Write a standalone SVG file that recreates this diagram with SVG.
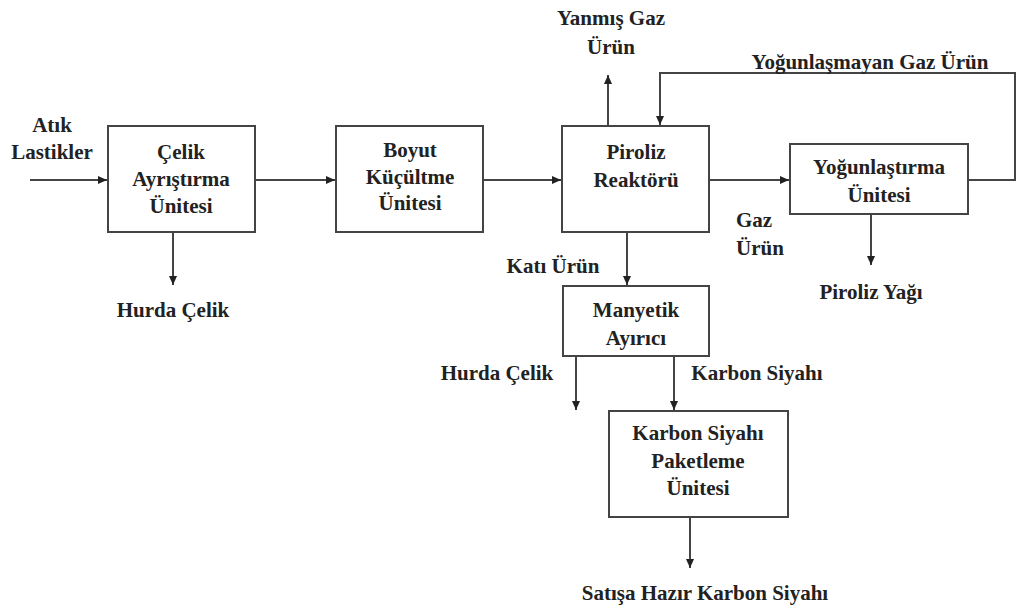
<svg xmlns="http://www.w3.org/2000/svg" width="1017" height="608" viewBox="0 0 1017 608">
<style>
.box{fill:#fff;stroke:#444;stroke-width:2}
.ln{fill:none;stroke:#444;stroke-width:2}
text{font-family:"Liberation Serif","Times New Roman",serif;font-weight:bold;font-size:21px;fill:#222;text-anchor:middle}
</style>
<defs>
<marker id="ah" markerWidth="10" markerHeight="10" refX="9" refY="5" orient="auto" markerUnits="userSpaceOnUse">
<path d="M0,1 L9,5 L0,9 Z" fill="#222"/>
</marker>
</defs>
<rect width="1017" height="608" fill="#fff"/>
<g id="connectors">
<line class="ln" x1="30" y1="180" x2="107" y2="180" marker-end="url(#ah)"/>
<line class="ln" x1="255" y1="180" x2="335" y2="180" marker-end="url(#ah)"/>
<line class="ln" x1="483" y1="180" x2="561" y2="180" marker-end="url(#ah)"/>
<line class="ln" x1="709" y1="180" x2="789" y2="180" marker-end="url(#ah)"/>
<line class="ln" x1="173" y1="232" x2="173" y2="285" marker-end="url(#ah)"/>
<line class="ln" x1="608" y1="126" x2="608" y2="75" marker-end="url(#ah)"/>
<polyline class="ln" points="968,180 1015,180 1015,73 660,73 660,125" marker-end="url(#ah)"/>
<line class="ln" x1="627" y1="232" x2="627" y2="285" marker-end="url(#ah)"/>
<line class="ln" x1="871" y1="214" x2="871" y2="265" marker-end="url(#ah)"/>
<line class="ln" x1="576" y1="356" x2="576" y2="410" marker-end="url(#ah)"/>
<line class="ln" x1="674" y1="356" x2="674" y2="410" marker-end="url(#ah)"/>
<line class="ln" x1="690" y1="517" x2="690" y2="568" marker-end="url(#ah)"/>
</g>
<g id="labels">
<text x="52" y="132">Atık</text>
<text x="52" y="159">Lastikler</text>
<text x="173" y="317">Hurda Çelik</text>
<text x="611" y="25">Yanmış Gaz</text>
<text x="611" y="54">Ürün</text>
<text x="870" y="69">Yoğunlaşmayan Gaz Ürün</text>
<text x="736" y="227" style="text-anchor:start">Gaz</text>
<text x="736" y="255" style="text-anchor:start">Ürün</text>
<text x="871" y="299">Piroliz Yağı</text>
<text x="553" y="273">Katı Ürün</text>
<text x="497" y="380">Hurda Çelik</text>
<text x="757" y="380">Karbon Siyahı</text>
<text x="705" y="600">Satışa Hazır Karbon Siyahı</text>
</g>
<g id="celik">
<rect class="box" x="108" y="126" width="147" height="106"/>
<text x="181" y="159">Çelik</text>
<text x="181" y="186">Ayrıştırma</text>
<text x="181" y="213">Ünitesi</text>
</g>
<g id="boyut">
<rect class="box" x="336" y="126" width="147" height="106"/>
<text x="410" y="157">Boyut</text>
<text x="410" y="184">Küçültme</text>
<text x="410" y="210">Ünitesi</text>
</g>
<g id="reaktor">
<rect class="box" x="562" y="126" width="147" height="106"/>
<text x="636" y="159">Piroliz</text>
<text x="636" y="187">Reaktörü</text>
</g>
<g id="yogunlastirma">
<rect class="box" x="790" y="144" width="178" height="70"/>
<text x="879" y="174">Yoğunlaştırma</text>
<text x="879" y="202">Ünitesi</text>
</g>
<g id="manyetik">
<rect class="box" x="563" y="286" width="146" height="70"/>
<text x="636" y="317">Manyetik</text>
<text x="636" y="345">Ayırıcı</text>
</g>
<g id="paketleme">
<rect class="box" x="609" y="411" width="179" height="106"/>
<text x="698" y="440">Karbon Siyahı</text>
<text x="698" y="468">Paketleme</text>
<text x="698" y="495">Ünitesi</text>
</g>
</svg>
